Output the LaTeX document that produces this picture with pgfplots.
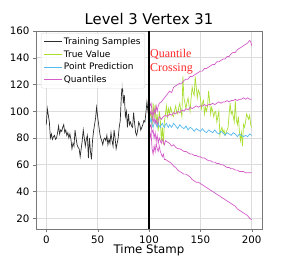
\documentclass[border=0pt]{standalone}
\usepackage{pgfplots}
\pgfplotsset{compat=1.18}
\usepackage{fontspec}
\setmainfont{DejaVu Sans}
\newfontfamily\serifred{Liberation Serif}
\definecolor{trainc}{RGB}{45,45,45}
\definecolor{truec}{RGB}{170,222,50}
\definecolor{predc}{RGB}{85,185,240}
\definecolor{quantc}{RGB}{212,92,200}
\definecolor{gridc}{RGB}{220,220,220}
\definecolor{framec}{RGB}{120,120,120}
\begin{document}
\begin{tikzpicture}
\begin{axis}[
  at={(0,0)}, anchor=south west,
  scale only axis, width=226bp, height=198bp,
  xmin=-10, xmax=210, ymin=12, ymax=160,
  xtick={0,50,100,150,200}, ytick={20,40,60,80,100,120,140,160},
  grid=major, grid style={gridc, line width=0.6pt},
  axis line style={framec, line width=0.7pt},
  tick style={framec}, tick align=outside, major tick length=3bp,
  xtick pos=bottom, ytick pos=left,
  /pgf/number format/assume math mode=true,
  tick label style={font=\fontsize{10.3}{11}\selectfont},
  title={Level 3 Vertex 31}, title style={font=\fontsize{14.8}{17}\selectfont, yshift=-3bp},
  xlabel={Time Stamp}, xlabel style={font=\fontsize{11.8}{13}\selectfont, yshift=5.5bp},
  legend style={at={(0.022,0.99)}, anchor=north west, font=\fontsize{9}{11}\selectfont,
    draw=gridc, fill=white, fill opacity=0.85, text opacity=1, rounded corners=2pt,
    row sep=0.3pt, inner sep=2.5pt},
  legend cell align=left,
  legend image code/.code={\draw[#1] (0cm,0cm) -- (0.62cm,0cm);},
]
\addplot[trainc, line width=0.7pt] coordinates {
(0,90) (1,102) (2,97) (3,92) (4,80) (5,83) (6,79) (7,81) (8,82) (9,79) (10,80) (11,84) (12,89) (13,83) (14,86) (15,85) (16,88) (17,90) (18,84) (19,86) (20,82) (21,84) (22,80) (23,83) (24,79) (25,72) (26,76) (27,74) (28,86) (29,80) (30,75) (31,73) (32,72) (33,66) (34,72) (35,78) (36,86) (37,80) (38,74) (39,79) (40,82) (41,65) (42,80) (43,70) (44,64) (45,78) (46,85) (47,90) (48,95) (49,103) (50,96) (51,90) (52,84) (53,80) (54,78) (55,75) (56,79) (57,80) (58,78) (59,82) (60,75) (61,79) (62,76) (63,84) (64,78) (65,74) (66,86) (67,80) (68,72) (69,76) (70,80) (71,88) (72,93) (73,110) (74,122) (75,106) (76,112) (77,96) (78,100) (79,88) (80,98) (81,90) (82,92) (83,89) (84,88) (85,99) (86,91) (87,84) (88,82) (89,86) (90,92) (91,90) (92,86) (93,88) (94,90) (95,93) (96,92) (97,99) (98,107) (99,100) (100,104)
};
\addlegendentry{Training Samples}
\addplot[truec, line width=0.7pt] coordinates {
(100,92) (101,96) (102,100) (103,88) (104,106) (105,95) (106,105) (107,90) (108,98) (109,85) (110,100) (111,94) (112,78) (113,88) (114,75) (115,92) (116,98) (117,104) (118,96) (119,102) (120,98) (121,103) (122,100) (123,97) (124,96) (125,101) (126,104) (127,99) (128,98) (129,103) (130,106) (131,100) (132,96) (133,126) (134,110) (135,106) (136,102) (137,107) (138,110) (139,104) (140,100) (141,110) (142,118) (143,114) (144,112) (145,126) (146,118) (147,110) (148,116) (149,114) (150,110) (151,102) (152,106) (153,108) (154,98) (155,103) (156,100) (157,104) (158,115) (159,108) (160,98) (161,103) (162,100) (163,96) (164,99) (165,100) (166,92) (167,96) (168,100) (169,82) (170,86) (171,88) (172,84) (173,86) (174,82) (175,84) (176,86) (177,88) (178,98) (179,106) (180,98) (181,100) (182,96) (183,92) (184,108) (185,94) (186,90) (187,96) (188,85) (189,78) (190,84) (191,74) (192,90) (193,88) (194,92) (195,98) (196,96) (197,94) (198,97) (199,90) (200,88)
};
\addlegendentry{True Value}
\addplot[predc, line width=0.7pt] coordinates {
(100,94) (101,92) (102,95) (103,90) (104,88) (105,91) (106,93) (107,90) (108,88) (109,91) (110,89) (111,88) (112,90) (113,91) (114,89) (115,88) (116,90) (117,91) (118,89) (119,88) (120,90) (122,88) (124,91) (126,89) (128,87) (130,90) (132,88) (134,87) (136,89) (138,86) (140,88) (142,87) (144,85) (146,87) (148,86) (150,85) (152,87) (154,85) (156,84) (158,86) (160,85) (162,84) (164,86) (166,84) (168,83) (170,85) (172,84) (174,82) (176,84) (178,83) (180,82) (182,84) (184,83) (186,81) (188,83) (190,82) (192,81) (194,82) (196,81) (198,83) (200,82)
};
\addlegendentry{Point Prediction}
\addplot[quantc, line width=0.7pt] coordinates {
(100,108) (101,104) (102,106) (103,100) (104,96) (105,102) (106,98) (107,104) (108,100) (109,104) (110,106) (112,107) (114,109) (116,111) (118,113) (120,115) (122,114) (124,118) (126,119) (128,120) (130,121) (132,121) (134,123) (136,124) (138,124) (140,126) (142,126) (144,127) (146,128) (148,129) (150,130) (152,130) (154,132) (156,132) (158,133) (160,134) (162,135) (164,135) (166,137) (168,137) (170,138) (172,139) (174,139) (176,141) (178,141) (180,143) (182,144) (184,144) (186,146) (188,147) (190,148) (192,149) (194,150) (196,151) (198,153) (199,152) (200,149)
};
\addlegendentry{Quantiles}
\addplot[quantc, line width=0.7pt, forget plot] coordinates {
(100,102) (101,98) (102,100) (103,96) (104,92) (105,95) (106,91) (107,94) (108,90) (109,93) (110,96) (112,94) (114,96) (116,97) (118,96) (120,98) (122,97) (124,99) (126,98) (128,100) (130,99) (132,101) (134,100) (136,102) (138,101) (140,103) (142,102) (144,103) (146,104) (148,103) (150,104) (152,104) (154,105) (156,104) (158,105) (160,105) (162,106) (164,105) (166,106) (168,107) (170,106) (172,107) (174,107) (176,108) (178,107) (180,108) (182,108) (184,109) (186,108) (188,109) (190,109) (192,110) (194,109) (196,110) (198,109) (200,109)
};
\addplot[quantc, line width=0.7pt, forget plot] coordinates {
(100,95) (101,88) (102,90) (103,84) (104,86) (105,80) (106,84) (107,78) (108,82) (109,76) (110,80) (111,78) (112,76) (113,79) (114,77) (115,75) (116,78) (118,77) (120,76) (122,74) (124,75) (126,73) (128,72) (130,72) (132,71) (134,70) (136,70) (138,69) (140,68) (142,68) (144,67) (146,67) (148,66) (150,66) (152,65) (154,65) (156,64) (158,63) (160,63) (162,62) (164,62) (166,61) (168,61) (170,60) (172,60) (174,59) (176,58) (178,58) (180,57) (182,57) (184,56) (186,56) (188,55) (190,55) (192,55) (194,54) (196,54) (198,54) (200,54)
};
\addplot[quantc, line width=0.7pt, forget plot] coordinates {
(100,90) (101,80) (102,84) (103,72) (104,68) (105,74) (106,70) (107,76) (108,72) (109,70) (110,74) (111,70) (112,68) (113,66) (114,68) (115,64) (116,64) (118,63) (120,62) (122,61) (124,59) (126,58) (128,56) (130,55) (132,54) (134,53) (136,53) (138,52) (140,51) (142,49) (144,48) (146,47) (148,47) (150,46) (152,45) (154,44) (156,43) (158,42) (160,41) (162,40) (164,39) (166,38) (168,37) (170,36) (172,35) (174,34) (176,33) (178,32) (180,31) (182,30) (184,29) (186,27) (188,26) (190,25) (192,24) (194,23) (196,22) (198,20) (200,19)
};
\addplot[black, line width=1.6pt, forget plot] coordinates {(100,12) (100,160)};
\node[anchor=north west, align=left, text=red!85!white, font=\serifred\fontsize{12}{14}\selectfont, inner sep=0pt] at (axis cs:101,146.5) {Quantile\\Crossing};
\end{axis}
\pgfresetboundingbox
\useasboundingbox (-36bp,-28bp) rectangle (255bp,229bp);
\end{tikzpicture}
\end{document}
